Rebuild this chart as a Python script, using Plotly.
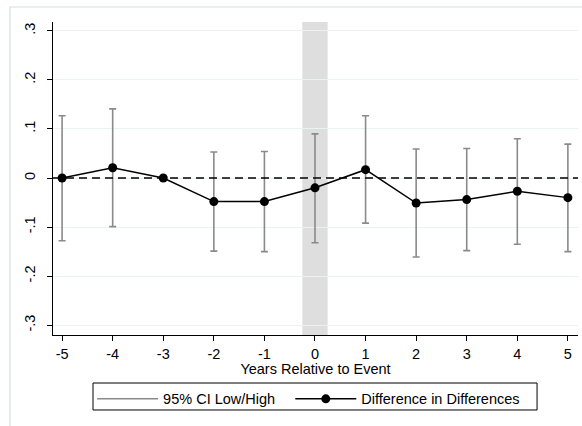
import plotly.graph_objects as go

years = [-5, -4, -3, -2, -1, 0, 1, 2, 3, 4, 5]
xtick_text = ["-5", "-4", "-3", "-2", "-1", "0", "1", "2", "3", "4", "5"]
did = [0.0, 0.021, 0.0, -0.048, -0.048, -0.020, 0.017, -0.051, -0.044, -0.027, -0.040]
ci_high = [0.127, 0.141, 0.0, 0.053, 0.054, 0.090, 0.127, 0.059, 0.060, 0.080, 0.069]
ci_low = [-0.128, -0.099, 0.0, -0.149, -0.150, -0.132, -0.092, -0.161, -0.148, -0.135, -0.150]
ytick_vals = [-0.3, -0.2, -0.1, 0, 0.1, 0.2, 0.3]
ytick_text = ["-.3", "-.2", "-.1", "0", ".1", ".2", ".3"]
band = [-0.25, 0.25]

err_plus = [h - d for h, d in zip(ci_high, did)]
err_minus = [d - l for l, d in zip(ci_low, did)]

FONT = "Liberation Sans, Arial, sans-serif"
GRAY = "#8a8a8a"
FS = 14.5

fig = go.Figure()

fig.add_trace(go.Scatter(
    x=years, y=did, mode="markers",
    marker=dict(size=0.1, color="rgba(0,0,0,0)"),
    error_y=dict(type="data", symmetric=False, array=err_plus, arrayminus=err_minus,
                 color=GRAY, thickness=1.6, width=3.5),
    showlegend=False, hoverinfo="skip",
))
fig.add_trace(go.Scatter(
    x=[None], y=[None], mode="lines", name="95% CI Low/High",
    line=dict(color=GRAY, width=1.6), legend="legend",
))
fig.add_trace(go.Scatter(
    x=years, y=did, mode="lines+markers", name="Difference in Differences",
    line=dict(color="black", width=1.5),
    marker=dict(color="black", size=9), legend="legend2",
))

fig.add_shape(type="rect", xref="x", yref="paper", x0=band[0], x1=band[1], y0=0, y1=1,
              fillcolor="#dedede", line=dict(width=0), layer="below")
fig.add_shape(type="line", xref="paper", yref="y", x0=0, x1=1, y0=0, y1=0,
              line=dict(color="black", width=1.4, dash="8px,5px"))
# outer graph region border
fig.add_shape(type="rect", xref="paper", yref="paper", x0=-0.082, x1=1.2, y0=-0.5, y1=1.048,
              line=dict(color="#d4dee1", width=1.2), fillcolor="rgba(0,0,0,0)", layer="above")
# legend frame
fig.add_shape(type="rect", xref="paper", yref="paper", x0=0.0762, x1=0.922, y0=-0.2396, y1=-0.1534,
              line=dict(color="black", width=1), fillcolor="rgba(0,0,0,0)")

leg_common = dict(orientation="h", y=-0.153, yanchor="top", xanchor="left",
                  borderwidth=0, itemwidth=61, font=dict(size=FS),
                  bgcolor="rgba(0,0,0,0)")
fig.update_layout(
    width=582, height=426,
    margin=dict(l=53, r=4, t=22, b=91),
    paper_bgcolor="white", plot_bgcolor="white",
    font=dict(family=FONT, size=FS, color="black"),
    legend=dict(x=0.0745, **leg_common),
    legend2=dict(x=0.452, **leg_common),
)
fig.update_xaxes(
    range=[-5.18, 5.2], tickmode="array", tickvals=years, ticktext=xtick_text,
    ticks="outside", ticklen=5, tickcolor="black", tickwidth=1,
    showline=True, linecolor="black", linewidth=1.2, showgrid=False, zeroline=False,
    title=dict(text="Years Relative to Event", standoff=2, font=dict(size=FS)),
    tickfont=dict(size=FS),
)
fig.update_yaxes(
    range=[-0.32, 0.318], tickmode="array", tickvals=ytick_vals, ticktext=ytick_text,
    tickangle=-90, ticks="outside", ticklen=5, tickcolor="black", tickwidth=1,
    ticklabelstandoff=6,
    showline=True, linecolor="black", linewidth=1.2,
    showgrid=True, gridcolor="#eaf2f3", gridwidth=1.2, zeroline=False,
    tickfont=dict(size=FS),
)

fig.write_html("out.html")
